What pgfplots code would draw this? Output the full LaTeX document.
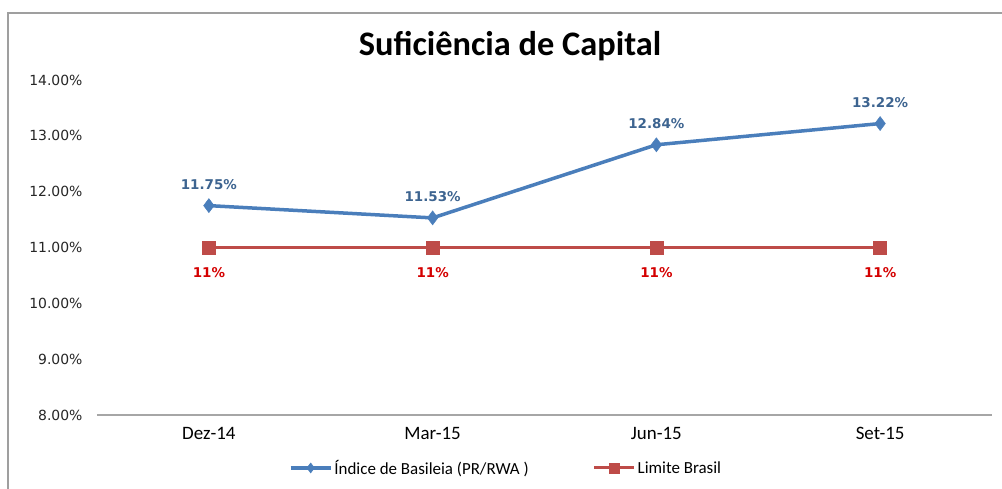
\documentclass[border=0pt]{standalone}
\usepackage{pgfplots}
\pgfplotsset{compat=1.18}
\usepackage{fontspec}
\setmainfont{Carlito}
\newfontfamily\dejavu{DejaVu Sans}
\definecolor{lineblue}{HTML}{4A7EBB}
\definecolor{linered}{HTML}{BE4B48}
\definecolor{lblblue}{HTML}{3D6490}
\definecolor{lblred}{HTML}{D40000}
\begin{document}
\begin{tikzpicture}
\useasboundingbox (-97bp,-74bp) rectangle (905bp,415bp);
\draw[gray!75, line width=1.3bp] (-89bp,-74bp) -- (-89bp,402bp) -- (905bp,402bp);
\begin{axis}[
  at={(0,0)}, anchor=south west,
  scale only axis, width=895bp, height=335bp,
  xmin=-0.5, xmax=3.5, ymin=8, ymax=14,
  axis x line*=bottom, axis y line*=left,
  y axis line style={draw=none},
  x axis line style={gray!70, line width=1.3bp, -},
  major tick length=0pt,
  xtick={0,1,2,3}, xticklabels={Dez-14,Mar-15,Jun-15,Set-15},
  ytick={8,9,10,11,12,13,14},
  yticklabels={8.00\%,9.00\%,10.00\%,11.00\%,12.00\%,13.00\%,14.00\%},
  yticklabel style={font=\dejavu\fontsize{14}{14}\selectfont, xshift=-11bp, text=black!85},
  xticklabel style={font=\fontsize{19}{19}\selectfont, yshift=-9bp},
  clip=false,
  legend style={at={(0.457,-0.158)}, anchor=center, draw=none, fill=none,
    font=\fontsize{17}{17}\selectfont, legend columns=2,
    /tikz/every even column/.append style={column sep=62bp}},
  legend cell align=left,
  legend image code/.code={\draw[#1, mark repeat=2, mark phase=2, mark size=5bp] plot coordinates {(0bp,0bp) (20bp,0bp) (40bp,0bp)};},
]
\addplot[color=lineblue, line width=3.5bp, mark=diamond*, mark size=7bp,
  mark options={line width=0.5bp, fill=lineblue},
  nodes near coords={\pgfmathprintnumber[fixed,precision=2,fixed zerofill,assume math mode=true]{\pgfplotspointmeta}\%},
  point meta=y,
  every node near coord/.append style={font=\dejavu\bfseries\fontsize{13.5}{13.5}\selectfont, text=lblblue, anchor=center, yshift=21bp}]
  coordinates {(0,11.75) (1,11.53) (2,12.84) (3,13.22)};
\addlegendentry{Índice de Basileia (PR/RWA )}
\addplot[color=linered, line width=3bp, mark=square*, mark size=6.5bp,
  mark options={line width=0.5bp, fill=linered},
  nodes near coords={11\%},
  every node near coord/.append style={font=\dejavu\bfseries\fontsize{13.5}{13.5}\selectfont, text=lblred, anchor=center, yshift=-25bp}]
  coordinates {(0,11) (1,11) (2,11) (3,11)};
\addlegendentry{Limite Brasil}
\end{axis}
\node[font=\bfseries\fontsize{34.5}{34.5}\selectfont] at (413bp,369bp) {Suficiência de Capital};
\end{tikzpicture}
\end{document}
